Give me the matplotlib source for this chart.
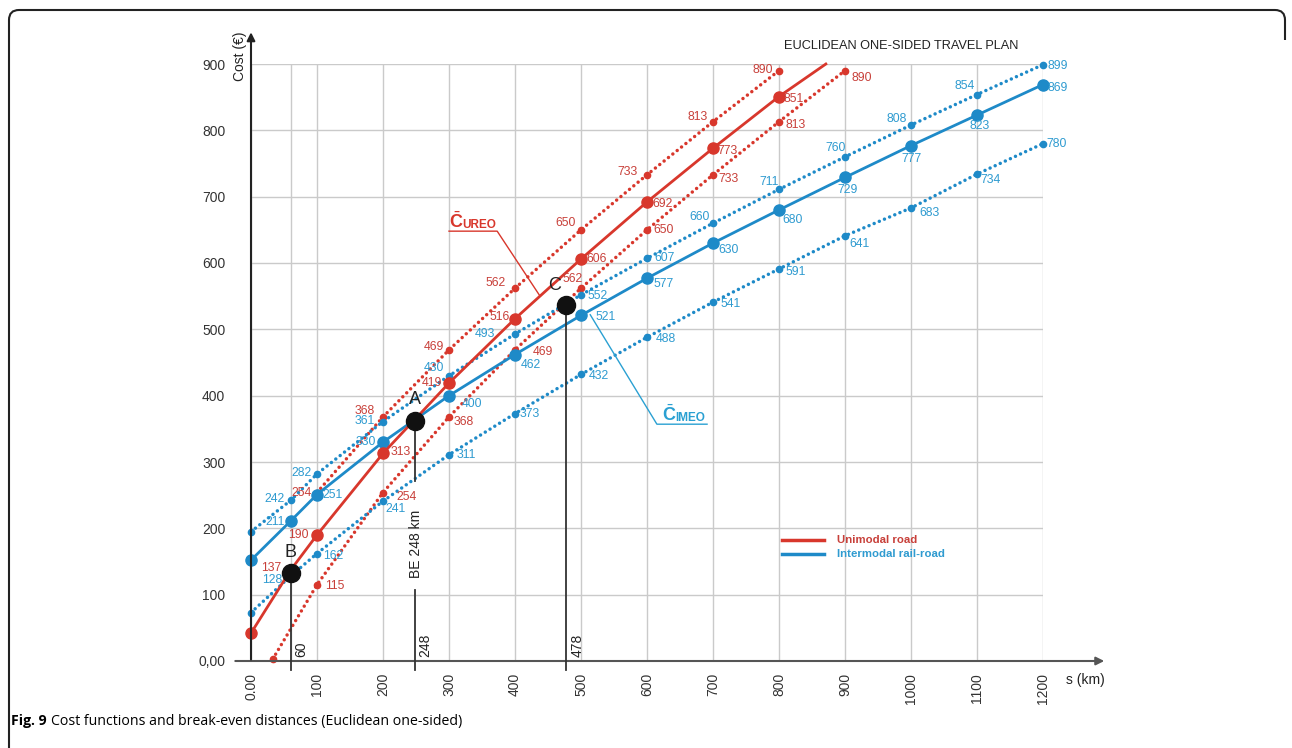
import numpy as np
import matplotlib.pyplot as plt
from matplotlib.path import Path
from matplotlib.patches import PathPatch

plt.rcParams['font.family'] = ['Liberation Sans', 'DejaVu Sans']
plt.rcParams['mathtext.fontset'] = 'custom'
plt.rcParams['mathtext.bf'] = 'Liberation Sans:bold'
plt.rcParams['mathtext.rm'] = 'Liberation Sans'

# distance s (km) and cost (EUR)
road_x = [0, 60, 100, 200, 300, 400, 500, 600, 700, 800, 871]
road_mean = [42, 137, 190, 313, 419, 516, 606, 692, 773, 851, 900]
road_hi_x = [100, 200, 300, 400, 500, 600, 700, 800]
road_hi = [254, 368, 469, 562, 650, 733, 813, 890]
road_lo_x = [33, 100, 200, 300, 400, 500, 600, 700, 800, 900]
road_lo = [3, 115, 254, 368, 469, 562, 650, 733, 813, 890]

rail_x = [0, 60, 100, 200, 300, 400, 500, 600, 700, 800, 900, 1000, 1100, 1200]
rail_mean = [152, 211, 251, 330, 400, 462, 521, 577, 630, 680, 729, 777, 823, 869]
rail_hi = [195, 242, 282, 361, 430, 493, 552, 607, 660, 711, 760, 808, 854, 899]
rail_lo = [73, 128, 162, 241, 311, 373, 432, 488, 541, 591, 641, 683, 734, 780]

# break-even points
be_names = ['A', 'B', 'C']
be_x = [248, 60, 478]
be_y = [362, 132, 537]

x_ticks = [0, 100, 200, 300, 400, 500, 600, 700, 800, 900, 1000, 1100, 1200]
x_ticklabels = ['0.00'] + [str(t) for t in x_ticks[1:]]
y_ticks = [0, 100, 200, 300, 400, 500, 600, 700, 800, 900]
y_ticklabels = ['0,00'] + [str(t) for t in y_ticks[1:]]

RED = '#d8372c'
RED_TXT = '#c8403a'
BLUE = '#1e8ac8'
BLUE_TXT = '#2f9bd0'

# label offsets in pixels (dx, dy), one per labelled point
road_mean_off = [(-19, 2), (-19, 0), (18, 1), (-17, 0), (-15, 2), (16, 0), (16, -2), (15, -3), (15, -2)]
road_hi_off = [(-15, 0), (-18, 6), (-15, 3), (-19, 5), (-15, 7), (-19, 3), (-15, 5), (-16, 1)]
road_lo_off = [(18, -1), (24, -4), (15, -5), (28, -2), (-8, 9), (17, 0), (16, -4), (17, -3), (17, -7)]
rail_mean_off = [(-15, -1), (16, 0), (-17, 0), (23, -8), (16, -10), (25, -2), (17, -6), (16, -7),
                 (14, -10), (3, -13), (1, -13), (3, -11), (15, -3)]
rail_hi_off = [(-16, 1), (-15, 1), (-18, 1), (-15, 8), (-30, 0), (17, -1), (18, 0), (-13, 6),
               (-10, 7), (-9, 9), (-14, 6), (-12, 9), (15, -1)]
rail_lo_off = [(-18, -4), (16, -2), (13, -8), (17, 0), (15, 0), (18, -2), (19, -2), (18, -2),
               (17, -3), (15, -8), (18, -5), (14, -6), (14, 0)]
be_label_off = [(0, 21), (0, 21), (-12, 19)]


def put_labels(ax, xs, ys, offs, color):
    for x, y, (dx, dy) in zip(xs, ys, offs):
        ax.annotate(str(y), (x, y), xytext=(dx, dy), textcoords='offset pixels',
                    ha='center', va='center', fontsize=8.8, color=color,
                    annotation_clip=False)


fig = plt.figure(figsize=(12.92, 7.48), dpi=100)
ax = fig.add_axes([251 / 1292, 87 / 748, 792 / 1292, 597 / 748])
ax.set_xlim(0, 1200)
ax.set_ylim(0, 900)
for s in ax.spines.values():
    s.set_visible(False)

ax.set_xticks(x_ticks, x_ticklabels, rotation=90)
ax.set_yticks(y_ticks, y_ticklabels)
ax.tick_params(axis='x', length=0, pad=8.5, labelsize=10, colors='#333333')
ax.tick_params(axis='y', length=0, pad=18.5, labelsize=10, colors='#333333')
ax.grid(color='#cacaca', lw=1)
ax.set_axisbelow(True)
ax.axvline(60, color='#cacaca', lw=1, zorder=0)

# axes with arrows
ax.annotate('', xy=(1297, 0), xytext=(-28, 0), annotation_clip=False,
            arrowprops=dict(arrowstyle='-|>', color='#555555', lw=1.5, mutation_scale=12))
ax.annotate('', xy=(0, 952), xytext=(0, -2), annotation_clip=False,
            arrowprops=dict(arrowstyle='-|>', color='#222222', lw=1.5, mutation_scale=12))

dots = dict(linestyle=(0, (0.01, 1.6)), lw=2.5, dash_capstyle='round', marker='o', markersize=4.5)

ax.plot(road_hi_x, road_hi, color=RED, **dots, clip_on=False)
ax.plot(road_lo_x, road_lo, color=RED, **dots, clip_on=False)
ax.plot(rail_x, rail_hi, color=BLUE, **dots, clip_on=False)
ax.plot(rail_x, rail_lo, color=BLUE, **dots, clip_on=False)
ax.plot(rail_x, rail_mean, color=BLUE, lw=2, marker='o', markersize=8, clip_on=False)
ax.plot(road_x, road_mean, color=RED, lw=2, marker='o', markersize=8,
        markevery=list(range(len(road_x) - 1)), clip_on=False)

put_labels(ax, road_x[1:-1], road_mean[1:-1], road_mean_off, RED_TXT)
put_labels(ax, road_hi_x, road_hi, road_hi_off, RED_TXT)
put_labels(ax, road_lo_x[1:], road_lo[1:], road_lo_off, RED_TXT)
put_labels(ax, rail_x[1:], rail_mean[1:], rail_mean_off, BLUE_TXT)
put_labels(ax, rail_x[1:], rail_hi[1:], rail_hi_off, BLUE_TXT)
put_labels(ax, rail_x[1:], rail_lo[1:], rail_lo_off, BLUE_TXT)

# break-even verticals
line_kw = dict(color='#333333', lw=1.3, clip_on=False, zorder=4)
ax.plot([be_x[1], be_x[1]], [-14, be_y[1]], **line_kw)
ax.plot([be_x[2], be_x[2]], [-14, be_y[2]], **line_kw)
ax.plot([be_x[0], be_x[0]], [-14, 107], **line_kw)
ax.plot([be_x[0], be_x[0]], [272, be_y[0]], **line_kw)
ax.text(be_x[0] + 2, 176, 'BE 248 km', rotation=90, ha='center', va='center',
        fontsize=10, color='#222222')
for x in be_x:
    ax.annotate(str(x), (x, 0), xytext=(4, 4), textcoords='offset pixels', rotation=90,
                ha='left', va='bottom', fontsize=10, color='#222222')

ax.plot(be_x, be_y, 'o', color='#111111', markersize=13, zorder=5, clip_on=False)
for name, x, y, (dx, dy) in zip(be_names, be_x, be_y, be_label_off):
    ax.annotate(name, (x, y), xytext=(dx, dy), textcoords='offset pixels', ha='center',
                va='center', fontsize=13, color='#222222')

# callouts
ax.plot([300, 373, 438], [648, 648, 550], color=RED, lw=1)
ax.text(300, 653, r'$\bar{\mathbf{C}}$', fontsize=13, color=RED, va='baseline')
ax.text(320, 653, 'UREO', fontsize=8.5, weight='bold', color=RED, va='baseline')
ax.plot([691, 615, 514], [357, 357, 522], color='#2aa0d2', lw=1)
ax.text(623, 362, r'$\bar{\mathbf{C}}$', fontsize=13, color='#2aa0d2', va='baseline')
ax.text(643, 362, 'IMEO', fontsize=8.5, weight='bold', color='#2aa0d2', va='baseline')

# legend
ax.plot([805, 868], [182, 182], color=RED, lw=2.5)
ax.text(888, 182, 'Unimodal road', fontsize=8.2, weight='bold', color=RED_TXT, va='center')
ax.plot([805, 868], [161, 161], color=BLUE, lw=2.5)
ax.text(888, 161, 'Intermodal rail-road', fontsize=8.2, weight='bold', color=BLUE_TXT, va='center')

ax.text(1162, 927, 'EUCLIDEAN ONE-SIDED TRAVEL PLAN', ha='right', va='center',
        fontsize=9.2, color='#222222')
ax.text(-17, 911, 'Cost (€)', rotation=90, ha='center', va='center', fontsize=10,
        color='#222222', clip_on=False)
ax.text(1235, -29, 's (km)', ha='left', va='center', fontsize=10, color='#222222')

# caption and frame
cap_y = 1 - 721 / 748
cap1 = fig.text(11 / 1292, cap_y, 'Fig. 9', family='Open Sans', weight='bold',
                fontsize=10.2, va='center')
r = fig.canvas.get_renderer()
bb = cap1.get_window_extent(r)
fig.text((bb.x1 + 4) / 1292, cap_y, 'Cost functions and break-even distances (Euclidean one-sided)',
         family='Open Sans', fontsize=10.2, va='center')

W, H = 1292, 748
verts = [(9, -20), (9, H - 20), (9, H - 10), (19, H - 10), (W - 17, H - 10), (W - 7, H - 10),
         (W - 7, H - 20), (W - 7, H - 40)]
codes = [Path.MOVETO, Path.LINETO, Path.CURVE3, Path.CURVE3, Path.LINETO, Path.CURVE3,
         Path.CURVE3, Path.LINETO]
verts = [(vx / W, vy / H) for vx, vy in verts]
fig.patches.append(PathPatch(Path(verts, codes), transform=fig.transFigure, fill=False,
                             edgecolor='#222222', lw=1.5))

fig.savefig('out.png', dpi=100)
